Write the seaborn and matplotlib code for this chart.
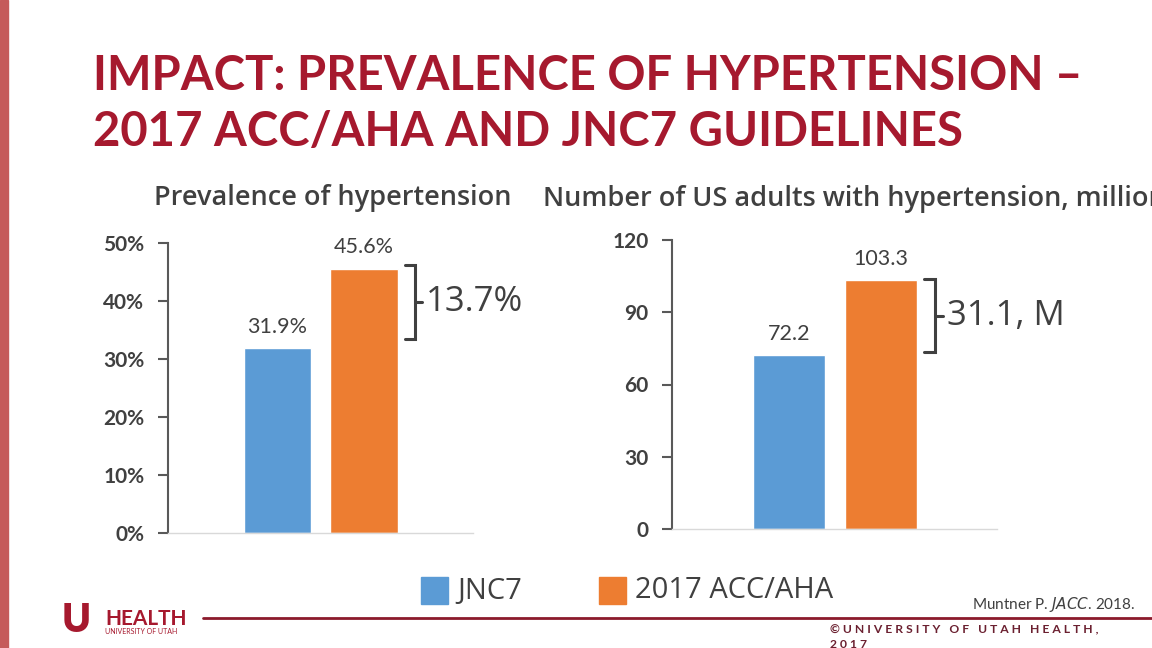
import numpy as np
import matplotlib
matplotlib.use("Agg")
import matplotlib.pyplot as plt
import seaborn as sns
from matplotlib.patches import Rectangle

# data
groups = ["JNC7", "2017 ACC/AHA"]
prevalence = [31.9, 45.6]
adults_millions = [72.2, 103.3]
prev_ticks = [0, 10, 20, 30, 40, 50]
adult_ticks = [0, 30, 60, 90, 120]
prev_diff_label = "13.7%"
adult_diff_label = "31.1, M"

blue = "#5B9BD5"
orange = "#ED7D31"
grey = "#404040"
axis_grey = "#595959"
crimson = "#A6192E"

sns.set_theme(style="white")
plt.rcParams["font.family"] = ["Lato", "DejaVu Sans"]

fig = plt.figure(figsize=(11.52, 6.48), dpi=100)
W, H = 1152, 648


def px_axes(x0, y0, x1, y1):
    return fig.add_axes([x0 / W, 1 - y1 / H, (x1 - x0) / W, (y1 - y0) / H])


def bar_panel(ax, values, ticks, fmt, xlim, label_fmt):
    sns.barplot(x=groups, y=values, hue=groups, palette=[blue, orange],
                width=0.78, legend=False, ax=ax, saturation=1)
    ax.set_xlim(*xlim)
    ax.set_ylim(ticks[0], ticks[-1])
    ax.set_yticks(ticks)
    ax.set_yticklabels([fmt(t) for t in ticks], fontsize=15,
                       fontweight="bold", color=grey)
    ax.set_xticks([])
    ax.set_xlabel("")
    ax.set_ylabel("")
    for s in ["top", "right"]:
        ax.spines[s].set_visible(False)
    ax.spines["left"].set_color(axis_grey)
    ax.spines["left"].set_linewidth(1.5)
    ax.spines["bottom"].set_color("#D9D9D9")
    ax.spines["bottom"].set_linewidth(1)
    ax.tick_params(axis="y", direction="out", length=7, width=1.5,
                   color=axis_grey, pad=10, left=True)
    for i, v in enumerate(values):
        ax.annotate(label_fmt(v), (i, v), xytext=(0, 8),
                    textcoords="offset points", ha="center", va="bottom",
                    fontsize=15.5, color=grey)


def bracket(ax, lo, hi, text):
    x0 = 1 + 0.39 + 0.08
    x1 = x0 + 0.12
    ax.plot([x0, x1, x1, x0], [hi, hi, lo, lo], color=grey, lw=2.2,
            clip_on=False, solid_joinstyle="miter")
    mid = (lo + hi) / 2
    ax.plot([x1, x1 + 0.08], [mid, mid], color=grey, lw=2.2, clip_on=False)
    ax.text(x1 + 0.13, mid, text, fontsize=25, color=grey, va="center",
            ha="left", family=["Open Sans", "DejaVu Sans"])


# left panel: prevalence
ax1 = px_axes(168, 243, 473, 533)
bar_panel(ax1, prevalence, prev_ticks, lambda t: f"{t}%", (-1.266, 2.26),
          lambda v: f"{v:.1f}%")
bracket(ax1, prevalence[0] + 1.6, prevalence[1] + 0.6, prev_diff_label)

# right panel: number of adults
ax2 = px_axes(672, 240, 997, 529)
bar_panel(ax2, adults_millions, adult_ticks, lambda t: f"{t}", (-1.272, 2.26),
          lambda v: f"{v:.1f}")
bracket(ax2, adults_millions[0] + 1.3, adults_millions[1] + 0.3,
        adult_diff_label)

# slide decorations
fig.patches.append(Rectangle((0, 0), 8 / W, 1, transform=fig.transFigure,
                             color="#C55A5A", zorder=0))
fig.text(93 / W, 1 - 76 / H, "IMPACT: PREVALENCE OF HYPERTENSION \u2013",
         fontsize=34, fontweight="bold", color=crimson, va="center")
fig.text(93 / W, 1 - 132 / H, "2017 ACC/AHA AND JNC7 GUIDELINES",
         fontsize=34, fontweight="bold", color=crimson, va="center")

fig.text(333 / W, 1 - 198 / H, "Prevalence of hypertension", fontsize=19.5,
         color=grey, ha="center", va="center", fontweight="semibold",
         family=["Open Sans", "DejaVu Sans"])
fig.text(543 / W, 1 - 199 / H, "Number of US adults with hypertension, millions",
         fontsize=19.5, color=grey, ha="left", va="center",
         fontweight="semibold", family=["Open Sans", "DejaVu Sans"])

# legend
for x, col, lab in [(421, blue, groups[0]), (599, orange, groups[1])]:
    fig.patches.append(Rectangle((x / W, 1 - 604 / H), 27 / W, 27 / H,
                                 transform=fig.transFigure, color=col))
    fig.text((x + 36) / W, 1 - 591 / H, lab, fontsize=21, color=grey,
             va="center", ha="left", family=["Open Sans", "DejaVu Sans"])

# footer
fig.add_artist(plt.Line2D([203 / W, 1], [1 - 618 / H, 1 - 618 / H],
                          transform=fig.transFigure, color="#8B1A2B", lw=2))
fig.text(1135 / W, 1 - 605 / H, "Muntner P. $\\it{JACC}$. 2018.", fontsize=11,
         color=grey, ha="right", va="center")
fig.text(830 / W, 1 - 630 / H, " ".join("\u00a9UNIVERSITY OF UTAH HEALTH,"),
         fontsize=8.7, fontweight="bold", color="#6B2030", va="center")
fig.text(830 / W, 1 - 644 / H, " ".join("2017"),
         fontsize=8.7, fontweight="bold", color="#6B2030", va="center")

fig.text(62 / W, 1 - 621 / H, "U", fontsize=28, fontweight="heavy",
         color=crimson, va="center", ha="left")
fig.text(105 / W, 1 - 619 / H, "HEALTH", fontsize=15, fontweight="bold",
         color=crimson, va="center", ha="left")
fig.text(105 / W, 1 - 632 / H, "UNIVERSITY OF UTAH", fontsize=5,
         color=crimson, va="center", ha="left")

fig.savefig("out.png", dpi=100)
